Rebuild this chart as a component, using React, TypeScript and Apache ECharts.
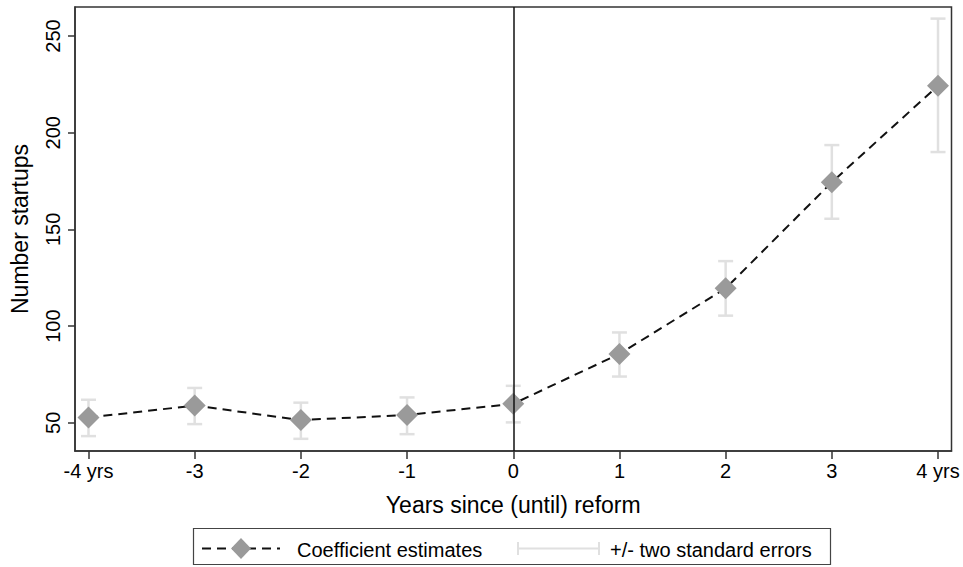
import React, { useEffect, useRef } from "react";
import * as echarts from "echarts";

const years = [-4, -3, -2, -1, 0, 1, 2, 3, 4];
const estimates = [52.7, 58.9, 51.4, 54.0, 59.8, 85.6, 119.5, 174.4, 224.3];
const lowerSE = [43.1, 49.3, 41.7, 44.1, 50.2, 73.9, 105.4, 155.5, 190.0];
const upperSE = [61.9, 68.0, 60.4, 63.1, 69.1, 96.7, 133.6, 193.6, 259.0];
const xTicks = [-4, -3, -2, -1, 0, 1, 2, 3, 4];
const yTicks = [50, 100, 150, 200, 250];
const FONT = "'Liberation Sans', Arial, sans-serif";

export default function App() {
  const ref = useRef<HTMLDivElement>(null);
  useEffect(() => {
    if (!ref.current) return;
    const chart = echarts.init(ref.current, undefined, { renderer: "svg" });
    const lineData = years.map((x, i) => [x, estimates[i]]);
    const errData = years.map((x, i) => [x, lowerSE[i], upperSE[i]]);
    const legY = 548.5;
    chart.setOption({
      animation: false,
      backgroundColor: "#fff",
      textStyle: { fontFamily: FONT },
      grid: {
        left: 74,
        right: 11.5,
        top: 7,
        bottom: 116,
        show: true,
        borderColor: "#333",
        borderWidth: 1.5,
        backgroundColor: "transparent",
      },
      xAxis: {
        type: "value",
        min: -4.127,
        max: 4.127,
        name: "Years since (until) reform",
        nameLocation: "middle",
        nameGap: 42,
        nameTextStyle: { fontSize: 23, color: "#000", fontFamily: FONT },
        axisLine: { show: true, onZero: false, lineStyle: { color: "#333", width: 1.5 } },
        axisTick: { show: true, length: 8, customValues: xTicks, lineStyle: { color: "#333", width: 1.5 } },
        axisLabel: {
          customValues: xTicks,
          fontSize: 20,
          color: "#000",
          margin: 10,
          fontFamily: FONT,
          formatter: (v: number) => (v === -4 ? "-4 yrs" : v === 4 ? "4 yrs" : String(v)),
        },
        splitLine: { show: false },
      },
      yAxis: {
        type: "value",
        min: 35.4,
        max: 265,
        name: "Number startups",
        nameLocation: "middle",
        nameGap: 44,
        nameRotate: 90,
        nameTextStyle: { fontSize: 23, color: "#000", fontFamily: FONT },
        axisLine: { show: true, onZero: false, lineStyle: { color: "#333", width: 1.5 } },
        axisTick: { show: true, length: 7, customValues: yTicks, lineStyle: { color: "#333", width: 1.5 } },
        axisLabel: {
          customValues: yTicks,
          rotate: 90,
          fontSize: 20,
          color: "#000",
          margin: 12,
          fontFamily: FONT,
        },
        splitLine: { show: false },
      },
      series: [
        {
          type: "custom",
          name: "+/- two standard errors",
          data: errData,
          z: 2,
          renderItem: (params: any, api: any) => {
            const x = api.value(0);
            const lo = api.coord([x, api.value(1)]);
            const hi = api.coord([x, api.value(2)]);
            const hw = 7.5;
            const style = { stroke: "#e0e0e0", lineWidth: 2.5 };
            return {
              type: "group",
              children: [
                { type: "line", shape: { x1: lo[0], y1: lo[1], x2: hi[0], y2: hi[1] }, style },
                { type: "line", shape: { x1: lo[0] - hw, y1: lo[1], x2: lo[0] + hw, y2: lo[1] }, style },
                { type: "line", shape: { x1: hi[0] - hw, y1: hi[1], x2: hi[0] + hw, y2: hi[1] }, style },
              ],
            };
          },
        },
        {
          type: "line",
          name: "Coefficient estimates",
          data: lineData,
          z: 3,
          symbol: "diamond",
          symbolSize: 22,
          itemStyle: { color: "#9a9a9a" },
          lineStyle: { color: "#111", width: 2, type: [9, 6] },
          markLine: {
            silent: true,
            symbol: ["none", "none"],
            label: { show: false },
            lineStyle: { color: "#111", width: 1.5, type: "solid" },
            data: [{ xAxis: 0 }],
          },
        },
      ],
      graphic: [
        {
          type: "rect",
          shape: { x: 193.5, y: 528.5, width: 637, height: 36 },
          style: { fill: "#fff", stroke: "#444", lineWidth: 1.2 },
        },
        {
          type: "line",
          shape: { x1: 202, y1: legY, x2: 280, y2: legY },
          style: { stroke: "#111", lineWidth: 2, lineDash: [9, 6] },
        },
        {
          type: "polygon",
          shape: { points: [[241, legY - 10.5], [251, legY], [241, legY + 10.5], [231, legY]] },
          style: { fill: "#9a9a9a" },
        },
        {
          type: "text",
          x: 297,
          y: legY + 1,
          style: { text: "Coefficient estimates", fill: "#000", font: "20px " + FONT, verticalAlign: "middle", align: "left" },
        },
        {
          type: "line",
          shape: { x1: 518, y1: legY, x2: 599, y2: legY },
          style: { stroke: "#e0e0e0", lineWidth: 2 },
        },
        {
          type: "line",
          shape: { x1: 518, y1: legY - 6.5, x2: 518, y2: legY + 6.5 },
          style: { stroke: "#e0e0e0", lineWidth: 2 },
        },
        {
          type: "line",
          shape: { x1: 599, y1: legY - 6.5, x2: 599, y2: legY + 6.5 },
          style: { stroke: "#e0e0e0", lineWidth: 2 },
        },
        {
          type: "text",
          x: 610,
          y: legY + 1,
          style: { text: "+/- two standard errors", fill: "#000", font: "20px " + FONT, verticalAlign: "middle", align: "left" },
        },
      ],
    });
    return () => chart.dispose();
  }, []);
  return <div ref={ref} style={{ width: 963, height: 567, position: "absolute", left: 0, top: 0 }} />;
}
